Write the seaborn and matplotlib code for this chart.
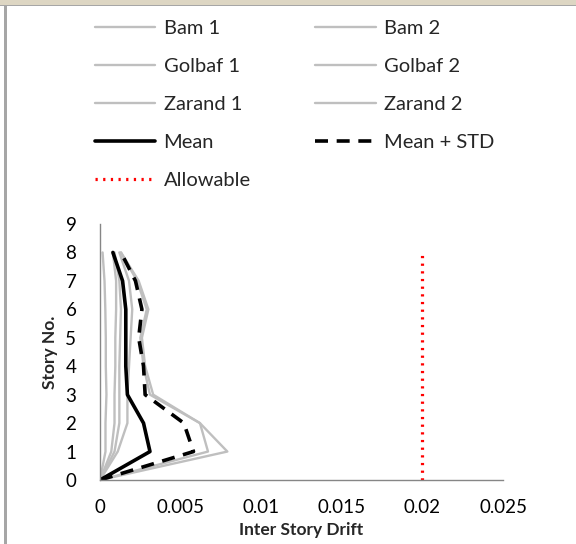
import matplotlib
matplotlib.use("Agg")
import matplotlib.pyplot as plt
from matplotlib.patches import Rectangle
from matplotlib.lines import Line2D
import seaborn as sns
import pandas as pd

stories = [0, 1, 2, 3, 4, 5, 6, 7, 8]
bam1 = [0, 0.00034, 0.00034, 0.0004, 0.00036, 0.00036, 0.00033, 0.00028, 0.00016]
bam2 = [0, 0.0007, 0.0009, 0.0009, 0.00095, 0.00095, 0.0010, 0.0010, 0.0008]
golbaf1 = [0, 0.0009, 0.0012, 0.0012, 0.0012, 0.00125, 0.0013, 0.0012, 0.0009]
golbaf2 = [0, 0.0011, 0.0017, 0.0017, 0.0018, 0.0019, 0.0020, 0.0018, 0.0012]
zarand1 = [0, 0.0067, 0.0062, 0.0031, 0.0027, 0.0025, 0.0029, 0.0023, 0.0013]
zarand2 = [0, 0.0079, 0.0062, 0.0033, 0.0028, 0.0026, 0.0030, 0.0024, 0.0013]
mean = [0, 0.0031, 0.0027, 0.0017, 0.0016, 0.0016, 0.0016, 0.0014, 0.0008]
mean_std = [0, 0.0058, 0.0052, 0.0028, 0.0027, 0.0024, 0.0026, 0.0022, 0.0013]
allowable = [0.02] * 9
x_ticks = [0, 0.005, 0.01, 0.015, 0.02, 0.025]
x_tick_labels = ["0", "0.005", "0.01", "0.015", "0.02", "0.025"]

series = {
    "Bam 1": bam1, "Bam 2": bam2, "Golbaf 1": golbaf1, "Golbaf 2": golbaf2,
    "Zarand 1": zarand1, "Zarand 2": zarand2,
}

sns.set_style("white")
plt.rcParams["font.family"] = ["Lato", "DejaVu Sans"]

fig = plt.figure(figsize=(5.76, 5.44), dpi=100)
ax = fig.add_axes([100 / 576, 1 - 480 / 544, 403 / 576, 256 / 544])

gray = "#bfbfbf"
handles = {}
for name, vals in series.items():
    df = pd.DataFrame({"drift": vals, "story": stories})
    sns.lineplot(data=df, x="drift", y="story", orient="y", sort=False,
                 estimator=None, color=gray, lw=1.7, ax=ax)
    handles[name] = Line2D([], [], color=gray, lw=1.7)

df = pd.DataFrame({"drift": mean, "story": stories})
sns.lineplot(data=df, x="drift", y="story", orient="y", sort=False,
             estimator=None, color="black", lw=2.6, ax=ax)
handles["Mean"] = Line2D([], [], color="black", lw=2.6)

df = pd.DataFrame({"drift": mean_std, "story": stories})
sns.lineplot(data=df, x="drift", y="story", orient="y", sort=False,
             estimator=None, color="black", lw=2.6, ax=ax)
ax.lines[-1].set_dashes([3.6, 2.4])
handles["Mean + STD"] = Line2D([], [], color="black", lw=2.6, dashes=[3.6, 2.4])

df = pd.DataFrame({"drift": allowable, "story": stories})
sns.lineplot(data=df, x="drift", y="story", orient="y", sort=False,
             estimator=None, color="red", lw=2.3, ax=ax)
ax.lines[-1].set_dashes([0.7, 1.7])
handles["Allowable"] = Line2D([], [], color="red", lw=2.3, dashes=[0.7, 1.7])

ax.set_xlim(0, 0.025)
ax.set_ylim(0, 9)
ax.set_xticks(x_ticks)
ax.set_xticklabels(x_tick_labels)
ax.set_yticks(range(0, 10))
for s in ["top", "right"]:
    ax.spines[s].set_visible(False)
for s in ["left", "bottom"]:
    ax.spines[s].set_color("#868686")
    ax.spines[s].set_linewidth(1.0)
ax.tick_params(axis="both", which="both", direction="out", length=5,
               width=1.0, color="#868686", labelsize=13.5, labelcolor="black")
ax.tick_params(axis="x", pad=9)
ax.tick_params(axis="y", pad=12)
ax.set_xlabel("Inter Story Drift", fontsize=12.5, fontweight="bold", labelpad=4)
ax.set_ylabel("Story No.", fontsize=12.5, fontweight="bold", labelpad=5)

order = ["Bam 1", "Golbaf 1", "Zarand 1", "Mean", "Allowable",
         "Bam 2", "Golbaf 2", "Zarand 2", "Mean + STD"]
fig.legend([handles[k] for k in order], order, ncol=2, frameon=False,
           loc="upper left", bbox_to_anchor=(87 / 576, 1 - 12 / 544),
           fontsize=14.5, handlelength=3.0, handletextpad=0.4,
           labelspacing=1.04, columnspacing=3.2, borderaxespad=0.0)

# frame decoration
fig.patches.append(Rectangle((0, 1 - 5 / 544), 1, 5 / 544, transform=fig.transFigure,
                             facecolor="#ddd6c3", edgecolor="none", zorder=10))
fig.patches.append(Rectangle((0, 1 - 6 / 544), 1, 1.2 / 544, transform=fig.transFigure,
                             facecolor="#a6a6a6", edgecolor="none", zorder=10))
fig.patches.append(Rectangle((4 / 576, 0), 2.5 / 576, 1 - 5 / 544, transform=fig.transFigure,
                             facecolor="#a6a6a6", edgecolor="none", zorder=10))

fig.savefig("out.png", dpi=100)
